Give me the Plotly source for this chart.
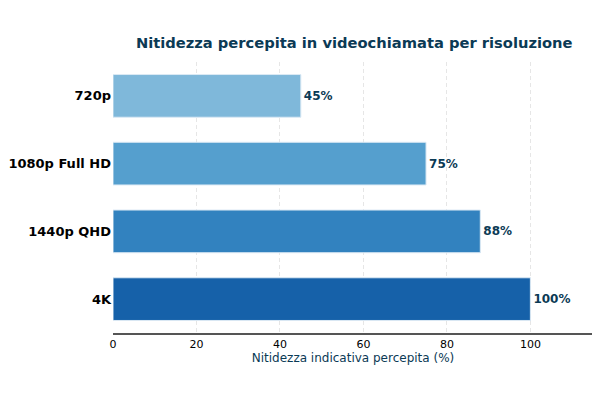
import plotly.graph_objects as go

# dati
risoluzioni = ["720p", "1080p Full HD", "1440p QHD", "4K"]
nitidezza = [45, 75, 88, 100]
colori = ["#7fb8da", "#559fce", "#3282bf", "#1661a9"]
etichette = [f"{v}%" for v in nitidezza]

fig = go.Figure()
fig.add_trace(
    go.Bar(
        x=nitidezza,
        y=risoluzioni,
        orientation="h",
        width=0.63,
        marker=dict(color=colori, line=dict(color="#dbe9f4", width=1)),
        text=etichette,
        textposition="outside",
        cliponaxis=False,
        textfont=dict(family="DejaVu Sans", size=12, color="#0b3a55"),
        texttemplate="<b>%{text}</b>",
        hoverinfo="skip",
    )
)

# la pagina ha un margine di 8px, quindi compenso qui
fig.update_layout(
    width=600,
    height=400,
    margin=dict(l=105, r=15, t=54, b=75),
    paper_bgcolor="white",
    plot_bgcolor="white",
    showlegend=False,
    font=dict(family="DejaVu Sans"),
    title=dict(
        text="<b>Nitidezza percepita in videochiamata per risoluzione</b>",
        x=0.577,
        xanchor="center",
        y=0.9125,
        yanchor="middle",
        font=dict(family="DejaVu Sans", size=14.7, color="#0b3a55"),
    ),
)

fig.update_xaxes(
    range=[0, 115],
    tickvals=[0, 20, 40, 60, 80, 100],
    tickfont=dict(size=11, color="black"),
    automargin=False,
    showgrid=True,
    gridcolor="#e6e6e6",
    griddash="4px,3px",
    gridwidth=1,
    showline=True,
    linecolor="#555555",
    linewidth=1.5,
    ticks="",
    zeroline=False,
    title=dict(
        text="Nitidezza indicativa percepita (%)",
        font=dict(size=12, color="#0b3a55"),
        standoff=3,
    ),
)

fig.update_yaxes(
    autorange=False,
    range=[3.5, -0.5],
    automargin=False,
    tickfont=dict(size=13, color="black"),
    tickprefix="<b>",
    ticksuffix="</b>",
    showgrid=False,
    showline=False,
    ticks="",
    ticklabelstandoff=1,
)

fig.write_html("out.html")
